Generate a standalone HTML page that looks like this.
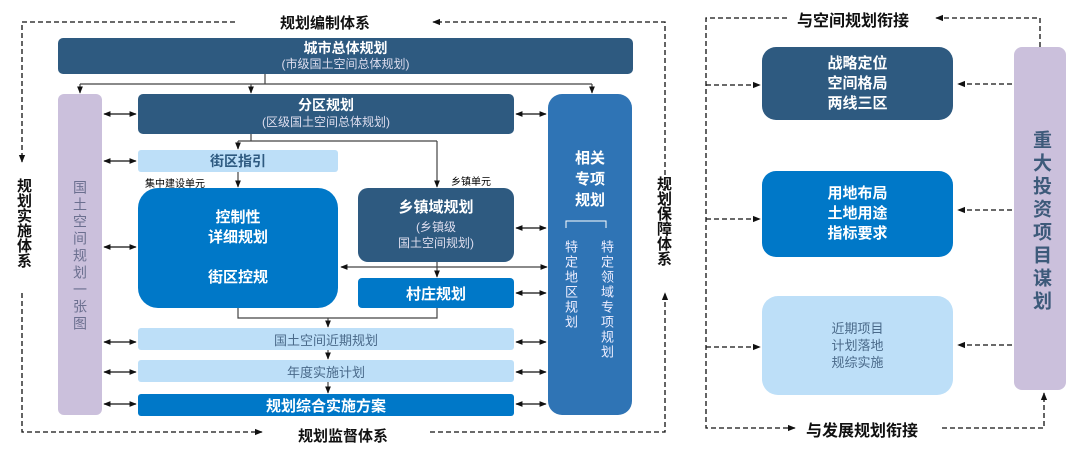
<!DOCTYPE html>
<html><head><meta charset="utf-8"><style>
body{margin:0;width:1080px;height:457px;background:#fff;position:relative;overflow:hidden;font-family:"Liberation Sans","Noto Sans CJK SC",sans-serif}
.b{position:absolute;box-sizing:border-box;display:flex;flex-direction:column;align-items:center;justify-content:center;text-align:center;color:#fff}
.t{position:absolute;font-weight:bold;color:#111;white-space:nowrap}
.v{position:absolute;writing-mode:vertical-rl;text-orientation:upright;white-space:nowrap}
svg{position:absolute;left:0;top:0}
</style></head><body>
<svg width="1080" height="457">
<defs>
<marker id="a" viewBox="0 0 10 10" refX="9" refY="5" markerWidth="6" markerHeight="6" orient="auto-start-reverse"><path d="M0,1L10,5L0,9z" fill="#111"/></marker>
</defs>
<g stroke="#111" stroke-width="1.3" fill="none" stroke-dasharray="5,3">
<path d="M235,22H22V162" marker-end="url(#a)"/>
<path d="M665,215V22H433" marker-end="url(#a)"/>
<path d="M22,293V432H262" marker-end="url(#a)"/>
<path d="M430,432H665V293" marker-end="url(#a)"/>
<path d="M787,18H706V428H795" marker-end="url(#a)"/>
<path d="M1040,47V18H936" marker-end="url(#a)"/>
<path d="M942,428H1044V393" marker-end="url(#a)"/>
<path d="M706,85H760" marker-end="url(#a)"/>
<path d="M706,219H760" marker-end="url(#a)"/>
<path d="M706,347H760" marker-end="url(#a)"/>
<path d="M1012,84H958" marker-end="url(#a)"/>
<path d="M1012,210H958" marker-end="url(#a)"/>
<path d="M1012,345H958" marker-end="url(#a)"/>
</g>
<g stroke="#444" stroke-width="1.2" fill="none">
<path d="M265,74V84M80,84H592"/>
<path d="M80,84V93" marker-end="url(#a)"/>
<path d="M251,84V93" marker-end="url(#a)"/>
<path d="M592,84V93" marker-end="url(#a)"/>
<path d="M251,134V141M238,141H437"/>
<path d="M238,141V149" marker-end="url(#a)"/>
<path d="M437,141V187" marker-end="url(#a)"/>
<path d="M238,172V187" marker-end="url(#a)"/>
<path d="M341,267H547" marker-start="url(#a)" marker-end="url(#a)"/>
<path d="M437,262V277" marker-end="url(#a)"/>
<path d="M238,308V318H437V308"/>
<path d="M328,318V327" marker-end="url(#a)"/>
<path d="M328,350V359" marker-end="url(#a)"/>
<path d="M328,382V393" marker-end="url(#a)"/>
</g>
<g stroke="#111" stroke-width="1.2" fill="none">
<path d="M104,114H136" marker-start="url(#a)" marker-end="url(#a)"/>
<path d="M104,161H136" marker-start="url(#a)" marker-end="url(#a)"/>
<path d="M104,247H136" marker-start="url(#a)" marker-end="url(#a)"/>
<path d="M104,342H136" marker-start="url(#a)" marker-end="url(#a)"/>
<path d="M104,372H136" marker-start="url(#a)" marker-end="url(#a)"/>
<path d="M104,404H136" marker-start="url(#a)" marker-end="url(#a)"/>
<path d="M516,114H546" marker-start="url(#a)" marker-end="url(#a)"/>
<path d="M516,228H546" marker-start="url(#a)" marker-end="url(#a)"/>
<path d="M516,293H546" marker-start="url(#a)" marker-end="url(#a)"/>
<path d="M516,342H546" marker-start="url(#a)" marker-end="url(#a)"/>
<path d="M516,372H546" marker-start="url(#a)" marker-end="url(#a)"/>
<path d="M516,404H546" marker-start="url(#a)" marker-end="url(#a)"/>
</g>
</svg>
<div class="t" style="left:280px;top:12px;font-size:15px">规划编制体系</div>
<div class="t" style="left:298px;top:425px;font-size:15px">规划监督体系</div>
<div class="t v" style="left:14px;top:178px;font-size:15px;line-height:18px">规划实施体系</div>
<div class="t v" style="left:654px;top:176px;font-size:15px;line-height:18px">规划保障体系</div>
<div class="b" style="left:58px;top:38px;width:575px;height:36px;background:#2e5a80;border-radius:5px;line-height:16px"><div style="font-size:14px;font-weight:bold">城市总体规划</div><div style="font-size:12px;color:#dde">(市级国土空间总体规划)</div></div>
<div class="b" style="left:58px;top:94px;width:44px;height:321px;background:#cbc0dc;border-radius:6px"></div>
<div class="v" style="left:70px;top:180px;font-size:14px;color:#6b6f8f;line-height:20px;letter-spacing:3px">国土空间规划一张图</div>
<div class="b" style="left:138px;top:94px;width:376px;height:40px;background:#2e5a80;border-radius:5px;line-height:17px"><div style="font-size:14px;font-weight:bold">分区规划</div><div style="font-size:12px;color:#dde">(区级国土空间总体规划)</div></div>
<div class="b" style="left:548px;top:94px;width:84px;height:321px;background:#2f74b5;border-radius:14px"></div>
<div class="b" style="left:548px;top:148px;width:84px;font-size:15px;font-weight:bold;line-height:21px">相关<br>专项<br>规划</div>
<svg width="1080" height="457"><path d="M566,228V221H606V228" stroke="#fff" fill="none" stroke-width="1"/></svg>
<div class="v" style="left:561px;top:240px;font-size:13px;color:#eef;line-height:18px;letter-spacing:2px">特定地区规划</div>
<div class="v" style="left:597px;top:240px;font-size:13px;color:#eef;line-height:18px;letter-spacing:2px">特定领域专项规划</div>
<div class="b" style="left:138px;top:150px;width:200px;height:22px;background:#bddff8;border-radius:3px;color:#2e5a80;font-weight:bold;font-size:14px">街区指引</div>
<div style="position:absolute;left:145px;top:175px;font-size:10px">集中建设单元</div>
<div style="position:absolute;left:451px;top:173px;font-size:10px">乡镇单元</div>
<div class="b" style="left:138px;top:188px;width:200px;height:120px;background:#0078c8;border-radius:20px;font-size:15px;font-weight:bold;line-height:20px">控制性<br>详细规划<br><br>街区控规</div>
<div class="b" style="left:358px;top:188px;width:156px;height:74px;background:#2e5a80;border-radius:10px;line-height:16px"><div style="font-size:15px;font-weight:bold;margin-bottom:3px">乡镇域规划</div><div style="font-size:12px;color:#dde">(乡镇级<br>国土空间规划)</div></div>
<div class="b" style="left:358px;top:278px;width:156px;height:30px;background:#0078c8;border-radius:4px;font-size:15px;font-weight:bold">村庄规划</div>
<div class="b" style="left:138px;top:328px;width:376px;height:22px;background:#bddff8;border-radius:3px;color:#4a6a8a;font-size:13px">国土空间近期规划</div>
<div class="b" style="left:138px;top:360px;width:376px;height:22px;background:#bddff8;border-radius:3px;color:#4a6a8a;font-size:13px">年度实施计划</div>
<div class="b" style="left:138px;top:394px;width:376px;height:22px;background:#0078c8;border-radius:3px;font-size:15px;font-weight:bold">规划综合实施方案</div>
<div class="t" style="left:797px;top:7px;font-size:16px">与空间规划衔接</div>
<div class="t" style="left:806px;top:417px;font-size:16px">与发展规划衔接</div>
<div class="b" style="left:762px;top:47px;width:191px;height:73px;background:#2e5a80;border-radius:14px;font-size:15px;font-weight:bold;line-height:20px">战略定位<br>空间格局<br>两线三区</div>
<div class="b" style="left:762px;top:171px;width:191px;height:86px;background:#0078c8;border-radius:14px;font-size:15px;font-weight:bold;line-height:20px">用地布局<br>土地用途<br>指标要求</div>
<div class="b" style="left:762px;top:296px;width:191px;height:99px;background:#bddff8;border-radius:16px;font-size:13px;color:#4a6a8a;line-height:17px">近期项目<br>计划落地<br>规综实施</div>
<div class="b" style="left:1014px;top:47px;width:52px;height:343px;background:#cbc0dc;border-radius:8px"></div>
<div class="v" style="left:1029px;top:130px;font-size:19px;font-weight:bold;color:#3d5a7a;line-height:22px;letter-spacing:4px">重大投资项目谋划</div>
</body></html>
